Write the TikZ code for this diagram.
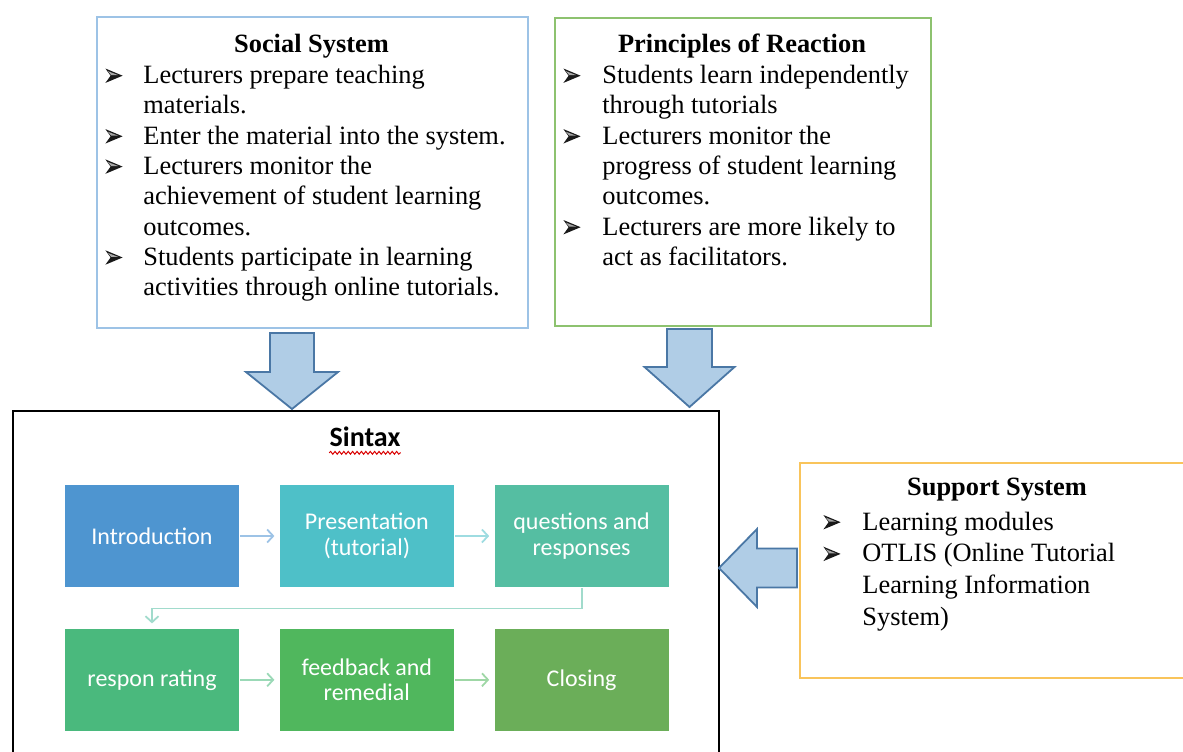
\documentclass[tikz,border=0pt]{standalone}
\usepackage{fontspec}
\setmainfont{Liberation Serif}
\newfontfamily\stepfont{Carlito}
\usetikzlibrary{arrows.meta,positioning,decorations.pathmorphing}
\definecolor{socialline}{HTML}{9DC3E6}
\definecolor{reactline}{HTML}{8DC26F}
\definecolor{supportline}{HTML}{F9C45B}
\definecolor{arrowfill}{HTML}{B0CDE6}
\definecolor{arrowline}{HTML}{4A77A5}
\definecolor{introfill}{HTML}{4E95D0}
\definecolor{presfill}{HTML}{4EC0C8}
\definecolor{questfill}{HTML}{55BEA2}
\definecolor{ratefill}{HTML}{4AB97D}
\definecolor{feedfill}{HTML}{50B75D}
\definecolor{closefill}{HTML}{6BAE59}
% arrowhead bullet
\newcommand{\bul}{\tikz[baseline=-0.3pt, x=1pt, y=1pt]{%
  \fill[black!90] (0,0) -- (8.6,3.6) -- (0,7.2) -- (2.6,3.6) -- cycle;
  \fill[black!35] (1.2,5.9) -- (6.4,3.9) -- (2.9,3.9) -- cycle;}}

\begin{document}
\begin{tikzpicture}[
  x=0.5pt, y=-0.5pt,
  node distance=20.5pt and 20pt,
  panel/.style={draw, line width=0.75pt, anchor=north west, inner sep=0pt},
  head/.style={font=\bfseries\fontsize{13.2}{15}\selectfont, anchor=base, inner sep=0pt},
  items/.style={anchor=base west, inner sep=0pt, align=left},
  stepbox/.style={minimum width=87pt, minimum height=51pt, inner sep=0pt, align=center, text=white, font=\stepfont\fontsize{12}{12.9}\selectfont},
  flow/.style={-{Straight Barb[length=3pt,width=6.5pt]}, line width=0.9pt, shorten >=2.5pt, shorten <=0.5pt},
  blockarrow/.style={fill=arrowfill, draw=arrowline, line width=0.9pt, line join=miter}
]
\useasboundingbox (0,0) rectangle (1183,751);
\clip (0,0) rectangle (1183,751);

% social system
\node[panel, draw=socialline, minimum width=215.5pt, minimum height=155.5pt] (social) at (96,16) {};
\node[head] (socialtitle) at (311.5,52) {Social System};
\node[items, font=\fontsize{13.2}{15.15}\selectfont] (socialitems) at (105,83.5) {%
  \begin{tabular}[t]{@{}p{19pt}@{}l@{}}
  \bul & Lecturers prepare teaching\\
       & materials.\\
  \bul & Enter the material into the system.\\
  \bul & Lecturers monitor the\\
       & achievement of student learning\\
       & outcomes.\\
  \bul & Students participate in learning\\
       & activities through online tutorials.
  \end{tabular}};

% principles of reaction
\node[panel, draw=reactline, minimum width=188pt, minimum height=154pt] (reaction) at (554,17) {};
\node[head] (reactiontitle) at (742,52) {Principles of Reaction};
\node[items, font=\fontsize{13.2}{15.15}\selectfont] (reactionitems) at (563,83.5) {%
  \begin{tabular}[t]{@{}p{19.5pt}@{}l@{}}
  \bul & Students learn independently\\
       & through tutorials\\
  \bul & Lecturers monitor the\\
       & progress of student learning\\
       & outcomes.\\
  \bul & Lecturers are more likely to\\
       & act as facilitators.
  \end{tabular}};

% support system
\node[panel, draw=supportline, minimum width=198pt, minimum height=107.5pt] (support) at (799,462) {};
\node[head] (supporttitle) at (997,495) {Support System};
\node[items, font=\fontsize{13.2}{15.85}\selectfont] (supportitems) at (823,530) {%
  \begin{tabular}[t]{@{}p{19.5pt}@{}l@{}}
  \bul & Learning modules\\
  \bul & OTLIS (Online Tutorial\\
       & Learning Information\\
       & System)
  \end{tabular}};

% sintax
\node[panel, draw=black, minimum width=353pt, minimum height=200pt] (sintax) at (12,410) {};
\node[anchor=base, inner sep=0pt, font=\stepfont\bfseries\fontsize{14}{15}\selectfont] (sintaxtitle) at (365,446) {Sintax};
\draw[red!85!black, line width=0.5pt, decorate, decoration={snake, amplitude=0.7pt, segment length=2.2pt}]
  ([yshift=-3.4pt]sintaxtitle.base west) -- ([yshift=-3.4pt]sintaxtitle.base east);

\node[stepbox, fill=introfill] (intro) at (152,536) {Introduction};
\node[stepbox, fill=presfill, right=of intro] (pres) {Presentation\\(tutorial)};
\node[stepbox, fill=questfill, right=of pres] (quest) {questions and\\responses};
\node[stepbox, fill=ratefill, below=of intro] (rating) {respon rating};
\node[stepbox, fill=feedfill, right=of rating] (feed) {feedback and\\remedial};
\node[stepbox, fill=closefill, right=of feed] (closing) {Closing};

\draw[flow, draw=socialline] (intro) -- (pres);
\draw[flow, draw=presfill!55] (pres) -- (quest);
\draw[flow, draw=questfill!55] (quest.south) -- ++(0,21) -| (rating.north);
\draw[flow, draw=ratefill!55] (rating) -- (feed);
\draw[flow, draw=feedfill!55] (feed) -- (closing);

% block arrows into the sintax panel
\draw[blockarrow] (292,409) -- ++(-46,-37) -- ++(24,0) -- ++(0,-39) -- ++(44,0) -- ++(0,39) -- ++(24,0) -- cycle;
\draw[blockarrow] (689.5,407) -- ++(-45,-40) -- ++(22.5,0) -- ++(0,-38) -- ++(45,0) -- ++(0,38) -- ++(22.5,0) -- cycle;
\draw[blockarrow] (719,568) -- ++(38,-39) -- ++(0,19.5) -- ++(40,0) -- ++(0,39) -- ++(-40,0) -- ++(0,19.5) -- cycle;
\end{tikzpicture}
\end{document}
